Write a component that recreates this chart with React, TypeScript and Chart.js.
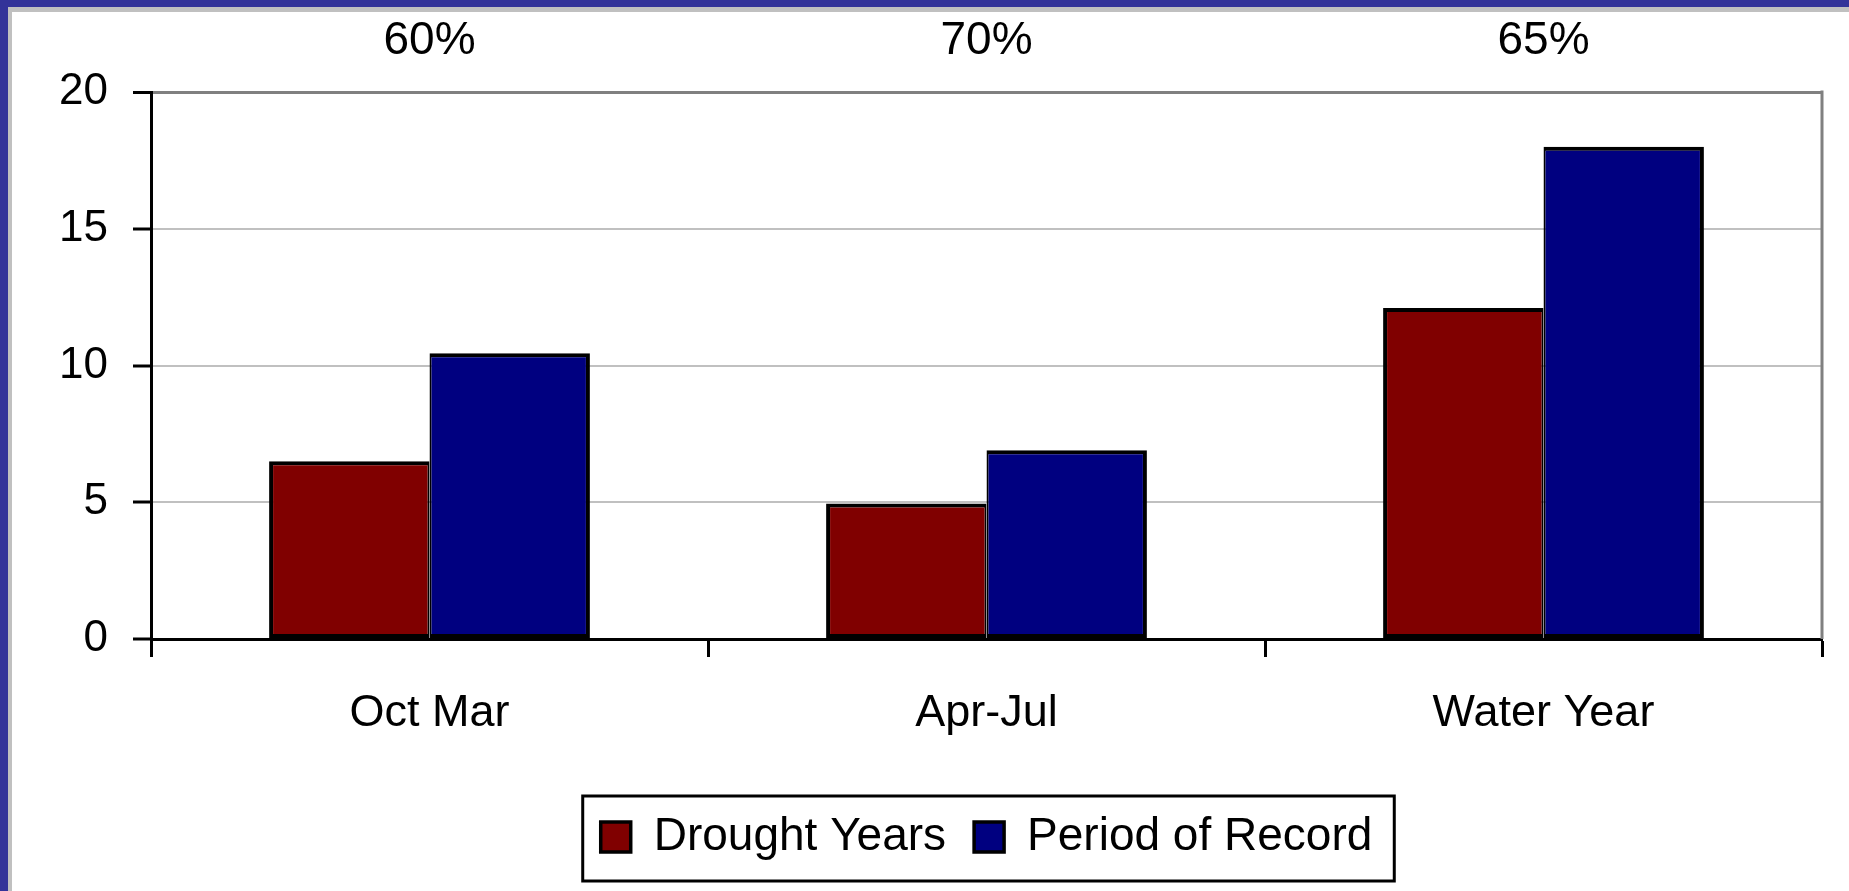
import React, { useEffect, useRef } from "react";
import { Chart, registerables } from "chart.js";
Chart.register(...registerables);

const categories = ["Oct Mar", "Apr-Jul", "Water Year"];
const droughtYears = [6.5, 4.95, 12.1];
const periodOfRecord = [10.45, 6.9, 18.0];
const percentLabels = ["60%", "70%", "65%"];
const yTicks = [0, 5, 10, 15, 20];

const FONT = "'Liberation Sans', Arial, sans-serif";

export default function App() {
  const ref = useRef<HTMLCanvasElement>(null);

  useEffect(() => {
    const canvas = ref.current!;
    const decorPlugin = {
      id: "decor",
      afterDraw(chart: any) {
        const { ctx, chartArea, scales } = chart;
        ctx.save();
        // percentage labels above categories
        ctx.font = `46px ${FONT}`;
        ctx.fillStyle = "#000";
        ctx.textAlign = "center";
        ctx.textBaseline = "middle";
        percentLabels.forEach((t, i) => {
          ctx.fillText(t, scales.x.getPixelForValue(i), chartArea.top - 51);
        });
        // right plot border
        ctx.strokeStyle = "#808080";
        ctx.lineWidth = 3;
        ctx.beginPath();
        ctx.moveTo(chartArea.right, chartArea.top - 1.5);
        ctx.lineTo(chartArea.right, chartArea.bottom);
        ctx.stroke();
        // legend border
        const lg = chart.legend;
        const hb = lg.legendHitBoxes;
        if (hb && hb.length) {
          const left = Math.min(...hb.map((h: any) => h.left)) - 18;
          const right = Math.max(...hb.map((h: any) => h.left + h.width)) + 22;
          const cy = hb[0].top + hb[0].height / 2;
          ctx.strokeStyle = "#000";
          ctx.lineWidth = 3;
          ctx.strokeRect(left, cy - 41, right - left, 85);
        }
        ctx.restore();
      },
    };

    const chart = new Chart(canvas, {
      type: "bar",
      data: {
        labels: categories,
        datasets: [
          {
            label: "Drought Years",
            data: droughtYears,
            backgroundColor: "#800000",
            borderColor: "#000",
            borderWidth: { top: 4, left: 4, bottom: 4, right: 2 },
            borderSkipped: false,
            categoryPercentage: 0.576,
            barPercentage: 1,
          },
          {
            label: "Period of Record",
            data: periodOfRecord,
            backgroundColor: "#000080",
            borderColor: "#000",
            borderWidth: { top: 4, left: 2, bottom: 4, right: 4 },
            borderSkipped: false,
            categoryPercentage: 0.576,
            barPercentage: 1,
          },
        ],
      },
      options: {
        responsive: false,
        animation: false,
        layout: { padding: { left: 0, top: 92, right: 27, bottom: 21 } },
        plugins: {
          tooltip: { enabled: false },
          title: { display: false },
          legend: {
            display: true,
            position: "bottom",
            fullSize: false,
            labels: {
              font: { family: FONT, size: 46 },
              color: "#000",
              boxWidth: 30,
              boxHeight: 30,
              padding: 28,
            },
          },
        },
        scales: {
          x: {
            grid: {
              drawOnChartArea: false,
              drawTicks: true,
              tickLength: 18,
              tickColor: "#000",
              tickWidth: 3,
              offset: true,
            },
            border: { display: true, color: "#000", width: 3 },
            ticks: {
              font: { family: FONT, size: 45 },
              color: "#000",
              padding: 30,
              maxRotation: 0,
              autoSkip: false,
            },
            afterFit: (s: any) => {
              s.height = 147;
            },
          },
          y: {
            min: 0,
            max: 20,
            afterBuildTicks: (axis: any) => {
              axis.ticks = yTicks.map((v) => ({ value: v }));
            },
            grid: {
              color: (c: any) =>
                c.tick && c.tick.value === 20
                  ? "#808080"
                  : c.tick && c.tick.value === 0
                  ? "rgba(0,0,0,0)"
                  : "#c0c0c0",
              lineWidth: (c: any) => (c.tick && c.tick.value === 20 ? 3 : 2),
              tickLength: 18,
              tickColor: "#000",
              tickWidth: 3,
            },
            border: { display: true, color: "#000", width: 3 },
            ticks: {
              font: { family: FONT, size: 44 },
              color: "#000",
              padding: 25,
            },
            afterFit: (s: any) => {
              s.width = 151;
            },
          },
        },
      },
      plugins: [decorPlugin],
    });
    return () => chart.destroy();
  }, []);

  return (
    <div
      style={{
        position: "absolute",
        left: 0,
        top: 0,
        width: 1849,
        height: 891,
        background: "#fff",
        overflow: "hidden",
      }}
    >
      <canvas
        ref={ref}
        width={1849}
        height={891}
        style={{ position: "absolute", left: 0, top: 0, width: 1849, height: 891 }}
      />
      <div style={{ position: "absolute", left: 0, top: 0, width: 1849, height: 7, background: "#333399" }} />
      <div style={{ position: "absolute", left: 0, top: 0, width: 8, height: 891, background: "#333399" }} />
      <div style={{ position: "absolute", left: 8, top: 7, width: 1841, height: 5, background: "#c0c0c0" }} />
      <div style={{ position: "absolute", left: 8, top: 7, width: 4, height: 884, background: "#c0c0c0" }} />
    </div>
  );
}
